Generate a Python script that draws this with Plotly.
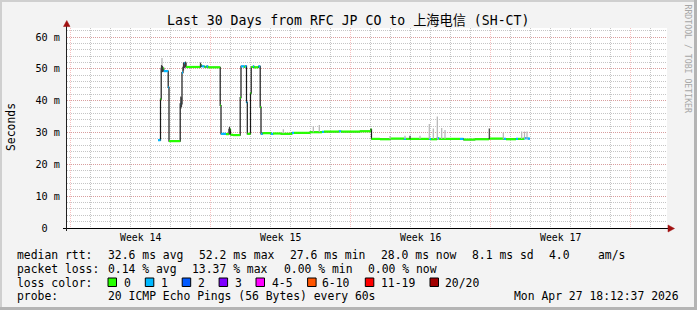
import plotly.graph_objects as go

# ---------------- data (x in days from left edge of the 30-day window, y in ms) ----------------
seg_day = [4.55, 4.675, 4.71, 4.84, 5.06, 5.10, 5.66, 5.75, 5.80, 5.86, 5.95, 6.675, 6.725,
           6.875, 6.975, 7.05, 7.66, 7.70, 7.95, 8.10, 8.175, 8.30, 8.66, 8.70, 8.85, 8.90,
           8.975, 9.015, 9.175, 9.21, 9.30, 9.35, 9.575, 9.66, 9.70, 9.775, 10.20, 10.30,
           10.70, 11.25, 11.35, 12.15, 12.75, 12.85, 13.60, 13.70, 14.65, 15.19, 15.225,
           15.65, 16.15, 16.85, 16.95, 18.10, 18.20, 18.50, 18.60, 19.65, 19.825, 20.40,
           21.10, 21.85, 21.95, 22.45, 22.55, 22.85, 23.05]
seg_ms = [27.6, 40.5, 50.2, 49.3, 44.2, 27.3, 39.0, 48.8, 50.5, 51.8, 50.6, 51.2, 50.8,
          50.6, 50.8, 50.5, 38.5, 29.6, 29.5, 31.0, 29.3, 29.2, 41.0, 50.8, 50.6, 50.9,
          39.5, 29.6, 42.4, 50.6, 50.8, 50.5, 50.8, 38.0, 29.6, 29.8, 29.6, 29.7,
          29.6, 29.9, 29.9, 30.1, 30.2, 30.3, 30.4, 30.3, 30.4, 31.0, 28.0,
          27.9, 28.1, 28.0, 28.0, 28.0, 27.9, 28.2, 28.0, 28.0, 27.8, 27.9,
          28.1, 28.0, 27.9, 28.0, 28.0, 28.2, 28.1]
seg_loss = [1, 0, 0, 1, 1, 0, 1, 1, 3, 1, 0, 0, 1,
            0, 1, 0, 0, 1, 0, 0, 0, 0, 0, 1, 0, 1,
            1, 0, 0, 0, 1, 0, 1, 0, 1, 0, 1, 0,
            0, 1, 0, 0, 1, 0, 1, 0, 0, 0, 0,
            0, 0, 1, 0, 1, 0, 1, 0, 1, 0, 0,
            0, 1, 0, 1, 0, 1, 1]
end_day = 23.15

smoke_day = [4.725, 4.75, 4.775, 5.69, 5.725, 5.825, 5.925, 6.675, 8.125, 10.815, 12.315,
             12.615, 16.15, 16.90, 17.15, 17.65, 18.115, 18.315, 18.515, 18.735, 18.90,
             21.115, 21.815, 22.735, 22.875, 23.00]
smoke_lo = [48.8, 51.2, 49.0, 37.5, 38.0, 49.5, 50.5, 50.5, 29.5, 29.8, 30.1,
            30.2, 28.0, 28.0, 28.0, 28.0, 28.0, 28.0, 28.0, 28.0, 28.0,
            28.0, 28.0, 28.0, 28.0, 28.0]
smoke_hi = [51.2, 53.4, 51.0, 41.3, 41.0, 52.0, 52.3, 52.0, 31.8, 31.0, 32.0,
            32.4, 28.9, 29.0, 29.0, 29.0, 32.7, 31.3, 35.0, 31.4, 30.8,
            31.3, 29.9, 30.3, 30.3, 30.3]
smoke_dark = [1, 0, 1, 1, 1, 1, 1, 1, 1, 0, 0,
              0, 0, 0, 1, 0, 0, 0, 0, 0, 0,
              1, 0, 0, 0, 0]

x_range = [0, 30]
y_range = [0, 62.85]
week_label_day = [3.685, 10.685, 17.685, 24.685]
week_labels = ["Week 14", "Week 15", "Week 16", "Week 17"]
week_grid_start = 0.185
y_tick_vals = [0, 10, 20, 30, 40, 50, 60]
y_tick_text = ["0\u00a0\u00a0", "10 m", "20 m", "30 m", "40 m", "50 m", "60 m"]

loss_names = ["0", "1", "2", "3", "4-5", "6-10", "11-19", "20/20"]
loss_colors = ["#26ff00", "#00b8ff", "#0059ff", "#7e00ff", "#ff00ff", "#ff5500", "#ff0000", "#a10000"]

title_text = "Last 30 Days from RFC JP CO to 上海电信 (SH-CT)"
rtt_items = ["median rtt:", "32.6 ms avg", "52.2 ms max", "27.6 ms min", "28.0 ms now", "8.1 ms sd", "4.0", "am/s"]
loss_items = ["packet loss:", "0.14 % avg", "13.37 % max", "0.00 % min", "0.00 % now"]
probe_items = ["probe:", "20 ICMP Echo Pings (56 Bytes) every 60s"]
stamp_text = "Mon Apr 27 18:12:37 2026"

# ---------------- layout helpers ----------------
W, H = 697, 310
PL, PR, PT, PB = 67, 667, 28, 228
FONT = "DejaVu Sans Mono, Noto Sans CJK SC, monospace"


def fx(px):
    return (px - PL) / (PR - PL)


def fy(py):
    return (PB - py) / (PB - PT)


fig = go.Figure()

# smoke
for dark_flag, col in [(0, "#b4b4b4"), (1, "#3c3c3c")]:
    xs, ys = [], []
    for d, lo, hi, dk in zip(smoke_day, smoke_lo, smoke_hi, smoke_dark):
        if dk == dark_flag:
            xs += [d, d, None]
            ys += [lo, hi, None]
    fig.add_trace(go.Scatter(x=xs, y=ys, mode="lines", xaxis="x2", yaxis="y",
                             line=dict(color=col, width=1.2), hoverinfo="skip", showlegend=False))

# median step line (black verticals)
fig.add_trace(go.Scatter(x=seg_day + [end_day], y=seg_ms + [seg_ms[-1]], mode="lines",
                         line=dict(color="#1a1a1a", width=1.2, shape="hv"),
                         hoverinfo="skip", showlegend=False))

# colored horizontal segments by loss
nxt = seg_day[1:] + [end_day]
for li, col in enumerate(loss_colors):
    xs, ys = [], []
    for i, lv in enumerate(seg_loss):
        if lv == li:
            xs += [seg_day[i], nxt[i], None]
            ys += [seg_ms[i], seg_ms[i], None]
    if xs:
        fig.add_trace(go.Scatter(x=xs, y=ys, mode="lines", line=dict(color=col, width=2.2),
                                 hoverinfo="skip", showlegend=False))

shapes = []
# frame (rrdtool shade)
shapes.append(dict(type="rect", xref="paper", yref="paper", x0=fx(0), x1=fx(2), y0=fy(310), y1=fy(0),
                   fillcolor="#cfcfcf", line=dict(width=0), layer="below"))
shapes.append(dict(type="rect", xref="paper", yref="paper", x0=fx(0), x1=fx(697), y0=fy(2), y1=fy(0),
                   fillcolor="#cfcfcf", line=dict(width=0), layer="below"))
shapes.append(dict(type="rect", xref="paper", yref="paper", x0=fx(694), x1=fx(697), y0=fy(310), y1=fy(0),
                   fillcolor="#b4b4b4", line=dict(width=0)))
shapes.append(dict(type="rect", xref="paper", yref="paper", x0=fx(0), x1=fx(697), y0=fy(310), y1=fy(307),
                   fillcolor="#b4b4b4", line=dict(width=0)))
# axis lines
shapes.append(dict(type="line", xref="paper", yref="paper", x0=fx(63), x1=fx(669),
                   y0=fy(228.5), y1=fy(228.5), line=dict(color="black", width=1)))
shapes.append(dict(type="line", xref="paper", yref="paper", x0=fx(66.5), x1=fx(66.5),
                   y0=fy(231), y1=fy(25), line=dict(color="#202020", width=1)))
# arrows
shapes.append(dict(type="path", xref="paper", yref="paper",
                   path=f"M {fx(63.5)},{fy(26.5)} L {fx(70)},{fy(26.5)} L {fx(66.75)},{fy(20.5)} Z",
                   fillcolor="#a11010", line=dict(color="#a11010", width=0.5)))
shapes.append(dict(type="path", xref="paper", yref="paper",
                   path=f"M {fx(668)},{fy(225)} L {fx(668)},{fy(232)} L {fx(674.5)},{fy(228.5)} Z",
                   fillcolor="#a11010", line=dict(color="#a11010", width=0.5)))

# legend boxes
box_x = [108, 145.3, 182.2, 219.1, 256, 307.6, 365.3, 430]
lab_x = [123, 160, 197, 234.2, 271, 321.3, 380, 444.4]
for bx, col in zip(box_x, loss_colors):
    shapes.append(dict(type="rect", xref="paper", yref="paper", x0=fx(bx), x1=fx(bx + 8.5),
                       y0=fy(286.5), y1=fy(278), fillcolor=col, line=dict(color="black", width=1)))

ann = []
LEG = 11.4


def text(s, px, py, size=LEG, xanchor="left", color="black", angle=0):
    ann.append(dict(text=s, x=fx(px), y=fy(py), xref="paper", yref="paper", showarrow=False,
                    xanchor=xanchor, yanchor="middle", textangle=angle,
                    font=dict(family=FONT, size=size, color=color)))


text(title_text, 348, 20.5, size=13.2, xanchor="center")
text("Seconds", 10.5, 127.5, size=11.4, xanchor="center", angle=-90)
text("RRDTOOL / TOBI OETIKER", 687.5, 59, size=8.2, xanchor="center", color="#a6a6a6", angle=90)

for s, px in zip(rtt_items, [15, 106, 197, 288, 379, 470, 547, 596]):
    text(s, px, 255)
for s, px in zip(loss_items, [15, 106, 190, 282, 366]):
    text(s, px, 268.5)
text("loss color:", 15, 282.5)
for s, px in zip(loss_names, lab_x):
    text(s, px - 1, 282.5)
for s, px in zip(probe_items, [15, 106]):
    text(s, px, 296)
text(stamp_text, 681, 296, xanchor="right")

red_grid = "rgba(240,110,110,0.45)"
gray_grid = "rgba(150,150,150,0.55)"
dash = "1px,1px"

fig.update_layout(
    width=W, height=H,
    margin=dict(l=PL, r=W - PR, t=PT, b=H - PB, pad=0),
    paper_bgcolor="#f3f3f3", plot_bgcolor="white",
    showlegend=False,
    xaxis=dict(range=x_range, tickmode="array", tickvals=week_label_day, ticktext=week_labels,
               showgrid=False, zeroline=False, showline=False, ticks="",
               tickfont=dict(family=FONT, size=9.8, color="black"), ticklabelstandoff=2),
    xaxis2=dict(overlaying="x", matches="x", range=x_range, tickmode="linear",
                tick0=week_grid_start, dtick=7, showgrid=True, gridcolor=red_grid, griddash=dash,
                gridwidth=1, showticklabels=False, zeroline=False, showline=False, ticks="",
                minor=dict(tickmode="linear", tick0=week_grid_start, dtick=1, showgrid=True,
                           gridcolor=gray_grid, griddash=dash, gridwidth=1, ticks="")),
    yaxis=dict(range=y_range, tickmode="array", tickvals=y_tick_vals, ticktext=y_tick_text,
               showgrid=True, gridcolor=red_grid, griddash=dash, gridwidth=1,
               zeroline=False, showline=False, ticks="",
               tickfont=dict(family=FONT, size=10.2, color="black"), ticklabelstandoff=6,
               minor=dict(tickmode="linear", tick0=0, dtick=2, showgrid=True,
                          gridcolor=gray_grid, griddash=dash, gridwidth=1, ticks="")),
    shapes=shapes, annotations=ann,
)

fig.write_html("out.html")
